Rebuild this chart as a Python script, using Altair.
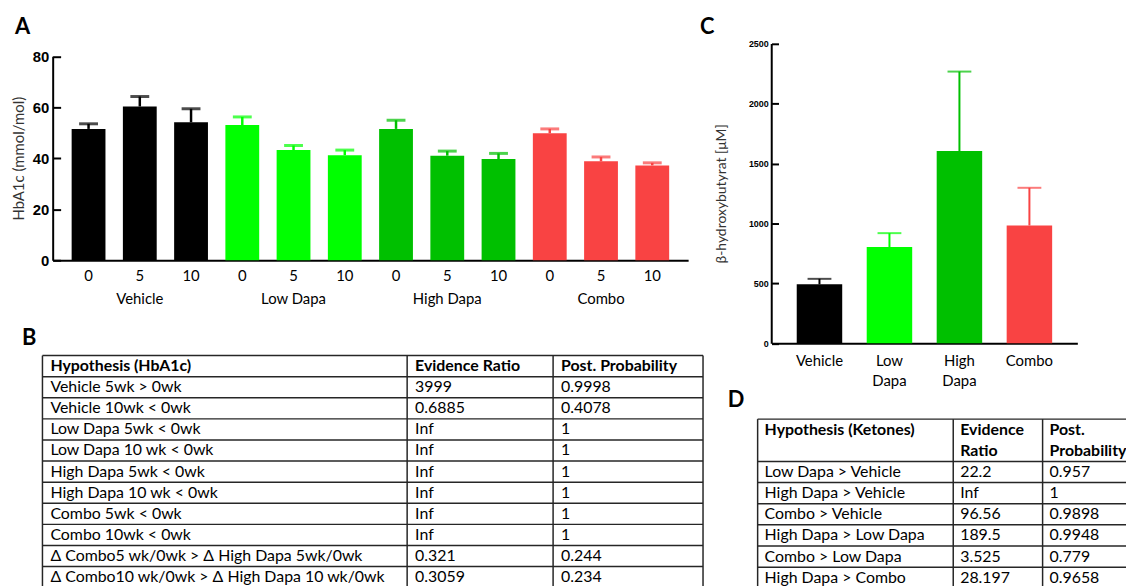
import altair as alt
import pandas as pd

# ---------------- data ----------------
groups = ["Vehicle", "Low Dapa", "High Dapa", "Combo"]
weeks = ["0", "5", "10"]
colors = ["#000000", "#00FF00", "#00C000", "#F94343"]

# Panel A: HbA1c (mmol/mol), mean and upper error per group x week
hba1c_mean = [51.5, 60.3, 54.1, 53.0, 43.2, 41.2, 51.5, 41.0, 39.7, 49.8, 38.8, 37.2]
hba1c_err = [2.0, 3.9, 5.3, 3.2, 1.8, 2.0, 3.4, 1.8, 2.2, 1.7, 1.7, 1.0]
hba1c_ticks = [0, 20, 40, 60, 80]

# Panel C: beta-hydroxybutyrate (uM)
bhb_mean = [492, 803, 1603, 983]
bhb_err = [46, 116, 663, 314]
bhb_ticks = [0, 500, 1000, 1500, 2000, 2500]

# Panel B table
b_header = ["Hypothesis (HbA1c)", "Evidence Ratio", "Post. Probability"]
b_hyp = ["Vehicle 5wk > 0wk", "Vehicle 10wk < 0wk", "Low Dapa 5wk < 0wk",
         "Low Dapa 10 wk < 0wk", "High Dapa 5wk < 0wk", "High Dapa 10 wk < 0wk",
         "Combo 5wk < 0wk", "Combo 10wk < 0wk",
         "\u0394 Combo5 wk/0wk > \u0394 High Dapa 5wk/0wk",
         "\u0394 Combo10 wk/0wk > \u0394 High Dapa 10 wk/0wk"]
b_ratio = ["3999", "0.6885", "Inf", "Inf", "Inf", "Inf", "Inf", "Inf", "0.321", "0.3059"]
b_prob = ["0.9998", "0.4078", "1", "1", "1", "1", "1", "1", "0.244", "0.234"]

# Panel D table
d_header_1 = ["Hypothesis (Ketones)", "Evidence", "Post."]
d_header_2 = ["", "Ratio", "Probability"]
d_hyp = ["Low Dapa > Vehicle", "High Dapa > Vehicle", "Combo > Vehicle",
         "High Dapa > Low Dapa", "Combo > Low Dapa", "High Dapa > Combo"]
d_ratio = ["22.2", "Inf", "96.56", "189.5", "3.525", "28.197"]
d_prob = ["0.957", "1", "0.9898", "0.9948", "0.779", "0.9658"]

# ---------------- layout ----------------
W, H = 1126, 578
TXT = "Lato"

# ---- Panel A
ids, ga, wa = [], [], []
for g in groups:
    for w in weeks:
        ids.append(f"{g}|{w}")
        ga.append(g)
        wa.append(w)
dfA = pd.DataFrame({"id": ids, "group": ga, "week": wa,
                    "mean": hba1c_mean, "err": hba1c_err})
dfA["upper"] = dfA["mean"] + dfA["err"]

A_y0, A_y1 = 252, 46.5
ax = alt.Scale(type="band", domain=ids, range=[45, 685], paddingInner=0.34, paddingOuter=0.37)
ay = alt.Scale(domain=[0, 80], range=[A_y0, A_y1], nice=False, zero=True)
colA = alt.Color("group:N", scale=alt.Scale(domain=groups, range=colors), legend=None)

label_expr = ("split(datum.value,'|')[1] == '5' ? "
              "[split(datum.value,'|')[1], split(datum.value,'|')[0]] : "
              "split(datum.value,'|')[1]")

a_bars = alt.Chart(dfA).mark_bar().encode(
    x=alt.X("id:N", sort=ids, scale=ax,
            axis=alt.Axis(orient="bottom", offset=A_y0 - H, title=None, ticks=False,
                          domainWidth=2, domainColor="black", labelFont=TXT,
                          labelFontSize=15, labelColor="black", labelAngle=0,
                          labelPadding=8, labelLineHeight=24, labelExpr=label_expr)),
    y=alt.Y("mean:Q", scale=ay,
            axis=alt.Axis(orient="left", offset=-45, values=hba1c_ticks, ticks=False,
                          grid=True, gridDash=[8, 3000], gridWidth=2, gridColor="black",
                          gridOpacity=1, domainWidth=2, domainColor="black",
                          labelFont="Liberation Sans", labelFontWeight="bold",
                          labelFontSize=15, labelColor="black", labelPadding=4,
                          title="HbA1c (mmol/mol)", titleFont=TXT, titleFontSize=15,
                          titleFontWeight="normal", titleColor="#333333", titlePadding=6)),
    color=colA,
)
a_err = alt.Chart(dfA).mark_rule(strokeWidth=2.5).encode(
    x=alt.X("id:N", sort=ids, scale=ax, axis=None),
    y=alt.Y("mean:Q", scale=ay, axis=None),
    y2="upper:Q",
    color=colA,
)
a_cap = alt.Chart(dfA).mark_tick(size=19, thickness=3).encode(
    x=alt.X("id:N", sort=ids, scale=ax, axis=None),
    y=alt.Y("upper:Q", scale=ay, axis=None),
    color=colA,
)

# ---- Panel C
dfC = pd.DataFrame({"group": groups, "mean": bhb_mean, "err": bhb_err})
dfC["upper"] = dfC["mean"] + dfC["err"]
C_y0, C_y1 = 335.7, 33.7
cx = alt.Scale(type="band", domain=groups, range=[769, 1077], paddingInner=0.35, paddingOuter=0.36)
cy = alt.Scale(domain=[0, 2500], range=[C_y0, C_y1], nice=False, zero=True)
colC = alt.Color("group:N", scale=alt.Scale(domain=groups, range=colors), legend=None)

c_bars = alt.Chart(dfC).mark_bar().encode(
    x=alt.X("group:N", sort=groups, scale=cx,
            axis=alt.Axis(orient="bottom", offset=C_y0 - H, title=None, ticks=False,
                          domainWidth=2, domainColor="black", labelFont=TXT,
                          labelFontSize=15, labelColor="black", labelAngle=0,
                          labelPadding=10, labelLineHeight=20,
                          labelExpr="split(datum.value, ' ')")),
    y=alt.Y("mean:Q", scale=cy,
            axis=alt.Axis(orient="left", offset=-768.7, values=bhb_ticks, ticks=False,
                          format="d",
                          grid=True, gridDash=[7, 3000], gridWidth=2, gridColor="black",
                          gridOpacity=1, domainWidth=2, domainColor="black",
                          labelFont="Liberation Sans", labelFontWeight="bold",
                          labelFontSize=9, labelColor="black", labelPadding=3,
                          title="\u03b2-hydroxybutyrat [\u03bcM]", titleFont=TXT,
                          titleFontSize=14, titleFontWeight="normal",
                          titleColor="#333333", titlePadding=20)),
    color=colC,
)
c_err = alt.Chart(dfC).mark_rule(strokeWidth=2).encode(
    x=alt.X("group:N", sort=groups, scale=cx, axis=None),
    y=alt.Y("mean:Q", scale=cy, axis=None),
    y2="upper:Q",
    color=colC,
)
c_cap = alt.Chart(dfC).mark_tick(size=24, thickness=2).encode(
    x=alt.X("group:N", sort=groups, scale=cx, axis=None),
    y=alt.Y("upper:Q", scale=cy, axis=None),
    color=colC,
)


# ---- tables
def table_layers(header_rows, body_cols, h_lines, n_rows, x_edges_px, y_top, row_h, dx):
    ncols = len(x_edges_px) - 1
    xs = alt.Scale(domain=list(range(ncols + 1)), range=x_edges_px, nice=False, zero=False)
    ys = alt.Scale(domain=[0, n_rows], range=[y_top, y_top + n_rows * row_h], nice=False, zero=False)
    hdf = pd.DataFrame({"r": h_lines, "c0": 0, "c1": ncols})
    vdf = pd.DataFrame({"c": list(range(ncols + 1)), "r0": 0, "r1": n_rows})
    recs = []
    for i, row in enumerate(header_rows):
        for c, t in enumerate(row):
            recs.append({"c": c, "r": i + 0.5, "t": t})
    hdr = pd.DataFrame(recs)
    recs = []
    nh = len(header_rows)
    for c, col in enumerate(body_cols):
        for i, t in enumerate(col):
            recs.append({"c": c, "r": nh + i + 0.5, "t": t})
    body = pd.DataFrame(recs)
    line_col = "#262626"
    hl = alt.Chart(hdf).mark_rule(color=line_col, strokeWidth=1.5).encode(
        x=alt.X("c0:Q", scale=xs, axis=None), x2="c1:Q",
        y=alt.Y("r:Q", scale=ys, axis=None))
    vl = alt.Chart(vdf).mark_rule(color=line_col, strokeWidth=1.5).encode(
        x=alt.X("c:Q", scale=xs, axis=None),
        y=alt.Y("r0:Q", scale=ys, axis=None), y2="r1:Q")
    th = alt.Chart(hdr).mark_text(font=TXT, fontSize=16, fontWeight="bold", align="left",
                                  baseline="middle", dx=dx, color="black").encode(
        x=alt.X("c:Q", scale=xs, axis=None), y=alt.Y("r:Q", scale=ys, axis=None), text="t:N")
    tb = alt.Chart(body).mark_text(font=TXT, fontSize=16, align="left",
                                   baseline="middle", dx=dx, color="black").encode(
        x=alt.X("c:Q", scale=xs, axis=None), y=alt.Y("r:Q", scale=ys, axis=None), text="t:N")
    return [hl, vl, th, tb]


b_layers = table_layers([b_header], [b_hyp, b_ratio, b_prob],
                        list(range(len(b_hyp) + 2)), len(b_hyp) + 1,
                        [34.7, 402, 549, 700], 348, 21.25, 8)
d_layers = table_layers([d_header_1, d_header_2], [d_hyp, d_ratio, d_prob],
                        [0] + list(range(2, len(d_hyp) + 3)), len(d_hyp) + 2,
                        [755, 952, 1042, 1160], 412, 21.3, 7)


# ---- panel letters
def letter(t, x, y):
    return alt.Chart(pd.DataFrame({"t": [t]})).mark_text(
        font=TXT, fontSize=22, fontWeight="bold", align="left", baseline="alphabetic",
        color="black").encode(text="t:N", x=alt.value(x), y=alt.value(y))


letters = [letter("A", 7, 24), letter("B", 14, 337), letter("C", 697, 24), letter("D", 725, 400)]

chart = alt.layer(
    a_bars, a_err, a_cap, c_bars, c_err, c_cap, *b_layers, *d_layers, *letters
).resolve_scale(
    x="independent", y="independent", color="independent"
).resolve_axis(
    x="independent", y="independent"
).properties(
    width=W, height=H, padding=0, autosize=alt.AutoSizeParams(type="none"),
    background="white"
).configure_view(stroke=None)

chart.save("out.html", embed_options={"renderer": "svg", "actions": False})
